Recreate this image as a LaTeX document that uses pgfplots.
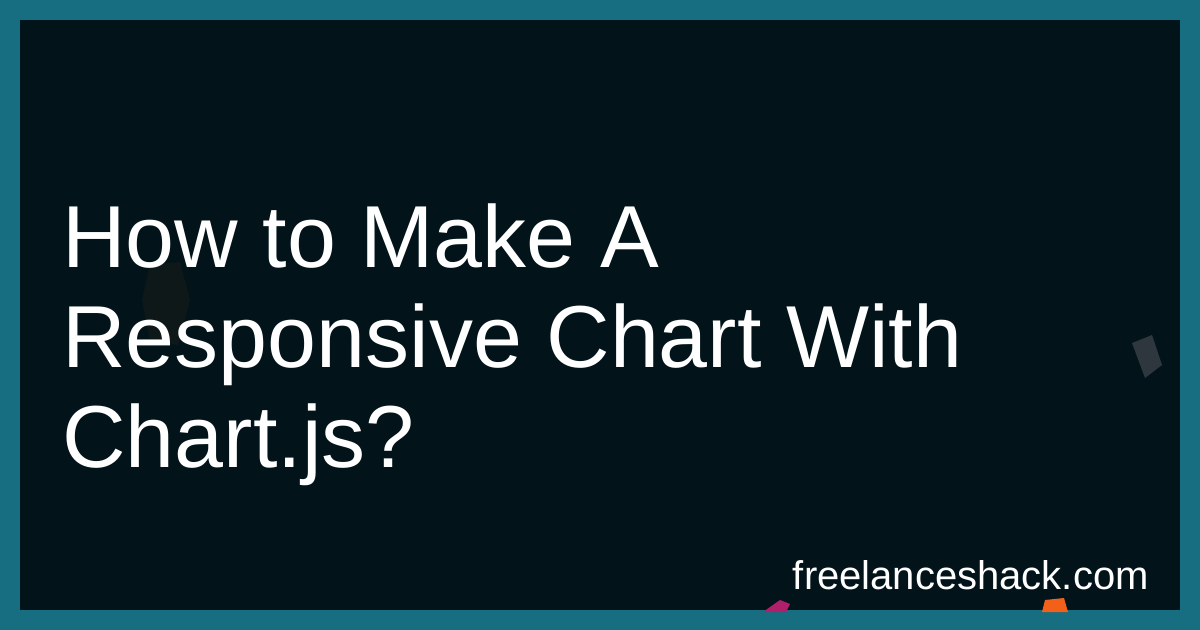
\documentclass[border=0pt]{standalone}
\usepackage{pgfplots}
\pgfplotsset{compat=1.18}
\usepackage{fontspec}
\setmainfont{Liberation Sans}
\definecolor{frame}{HTML}{166E80}
\definecolor{panel}{HTML}{02141A}
\definecolor{blobgray}{HTML}{3A3F48}
\definecolor{blobpink}{HTML}{B0206A}
\definecolor{bloborange}{HTML}{F2601A}
\definecolor{blobbrown}{HTML}{2A2218}
\begin{document}
\begin{tikzpicture}
\begin{axis}[
    width=600pt, height=315pt, scale only axis,
    xmin=0, xmax=1200, ymin=0, ymax=630, y dir=reverse,
    hide axis, clip=true]
% frame and dark panel (pixel coordinates)
\addplot[draw=none, fill=frame] coordinates {(0,0) (1200,0) (1200,630) (0,630)} -- cycle;
\addplot[draw=none, fill=panel] coordinates {(20,20) (1180,20) (1180,610) (20,610)} -- cycle;
% faint decorative shapes
\addplot[draw=none, fill=blobbrown, opacity=0.3] coordinates {(150,265) (180,262) (190,300) (178,345) (150,340) (142,300)} -- cycle;
\addplot[draw=none, fill=blobgray, opacity=0.8] coordinates {(1132,343) (1152,335) (1162,365) (1145,378)} -- cycle;
\addplot[draw=none, fill=blobpink] coordinates {(763,612) (780,600) (790,604) (786,612)} -- cycle;
\addplot[draw=none, fill=bloborange] coordinates {(1045,600) (1064,598) (1068,612) (1042,612)} -- cycle;
% title
\node[anchor=base west, text=white, font=\fontsize{44}{50}\selectfont, inner sep=0pt] at (axis cs:62,268) {How to Make A};
\node[anchor=base west, text=white, font=\fontsize{44}{50}\selectfont, inner sep=0pt] at (axis cs:62,368) {Responsive Chart With};
\node[anchor=base west, text=white, font=\fontsize{44}{50}\selectfont, inner sep=0pt] at (axis cs:62,468) {Chart.js?};
% site name
\node[anchor=base east, text=white, font=\fontsize{20}{24}\selectfont, inner sep=0pt] at (axis cs:1149,589) {freelanceshack.com};
\end{axis}
\end{tikzpicture}
\end{document}
